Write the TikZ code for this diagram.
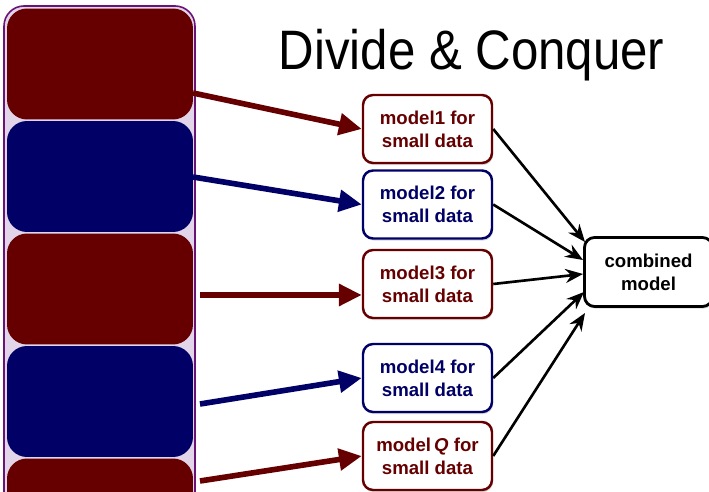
\documentclass[tikz,border=0pt]{standalone}
\usepackage{fontspec}
\setmainfont{Liberation Sans}
\usetikzlibrary{arrows.meta,shadows}

\definecolor{darkred}{HTML}{660000}
\definecolor{darknavy}{HTML}{000066}
\definecolor{lavender}{HTML}{E2D5EA}
\definecolor{plum}{HTML}{6A1276}

\tikzset{
  chunk/.style={rounded corners=0.4cm, minimum width=3.72cm, minimum height=2.22cm, inner sep=0pt},
  redchunk/.style={chunk, fill=darkred},
  bluechunk/.style={chunk, fill=darknavy},
  modelbox/.style={draw, line width=1.4pt, rounded corners=0.2cm, fill=white,
    minimum width=2.58cm, minimum height=1.36cm, inner sep=0pt, align=center,
    font=\bfseries\fontsize{10.6}{13}\selectfont,
    drop shadow={shadow xshift=0.6pt, shadow yshift=-1.2pt, opacity=0.3}},
  redmodel/.style={modelbox, draw=darkred, text=darkred},
  bluemodel/.style={modelbox, draw=darknavy, text=darknavy},
  joinbox/.style={modelbox, draw=black, text=black, line width=1.6pt, minimum width=2.56cm, minimum height=1.38cm},
  redarrow/.style={draw=darkred, line width=3.2pt, -{Triangle[length=13pt,width=12pt]}},
  bluearrow/.style={draw=darknavy, line width=3.2pt, -{Triangle[length=13pt,width=12pt]}},
  joinarrow/.style={line width=1.5pt, -{Stealth[length=10pt,width=8pt]}},
}

\begin{document}
\begin{tikzpicture}[x=0.02cm,y=-0.02cm]
  %%%%% START %%%%%
  \clip (0,0) rectangle (709,492);

  % the big data set, cut into pieces
  \draw[rounded corners=0.4cm, line width=0.9pt, draw=plum, fill=lavender] (4,6) rectangle (195,600);
  \node[redchunk] (part1) at (100,64) {};
  \node[bluechunk] (part2) at (100,176.5) {};
  \node[redchunk] (part3) at (100,289) {};
  \node[bluechunk] (part4) at (100,401.5) {};
  \node[redchunk] (part5) at (100,514) {};

  \node[anchor=base, font=\fontsize{28}{32}\selectfont] (head) at (471.5,70)
    {\scalebox{1}[1.13]{Divide \& Conquer}};

  % one model per piece
  \node[redmodel] (model1) at (427.5,129) {model1 for\\small data};
  \node[bluemodel] (model2) at (427.5,204.5) {model2 for\\small data};
  \node[redmodel] (model3) at (427.5,284) {model3 for\\small data};
  \node[bluemodel] (model4) at (427.5,378) {model4 for\\small data};
  \node[redmodel] (modelq) at (427.5,456) {model\,\textit{Q} for\\small data};

  \node[joinbox] (combined) at (648.5,272) {combined\\model};

  \coordinate (s1) at (193,93);
  \coordinate (s2) at (193,177);
  \coordinate (s3) at (200,295);
  \coordinate (s4) at (200,404);
  \coordinate (s5) at (200,481);

  \draw[redarrow] (s1) -- (model1.west);
  \draw[bluearrow] (s2) -- (model2.west);
  \draw[redarrow] (s3) -- (s3 -| model3.west);
  \draw[bluearrow] (s4) -- (model4.west);
  \draw[redarrow] (s5) -- (modelq.west);

  \coordinate (j1) at (585,242);
  \coordinate (j2) at (583,260);
  \coordinate (j3) at (583,274);
  \coordinate (j4) at (584,292);
  \coordinate (j5) at (585,313);

  \draw[joinarrow] (model1.east) -- (j1);
  \draw[joinarrow] (model2.east) -- (j2);
  \draw[joinarrow] (model3.east) -- (j3);
  \draw[joinarrow] (model4.east) -- (j4);
  \draw[joinarrow] (modelq.east) -- (j5);

  %%%%% END %%%%%
\end{tikzpicture}
\end{document}
